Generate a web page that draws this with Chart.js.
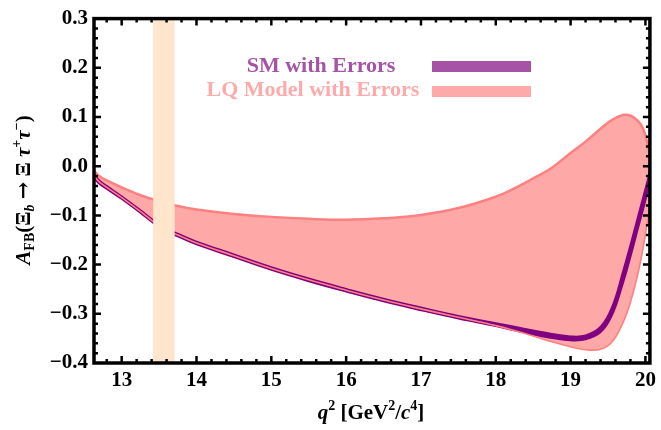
<!DOCTYPE html>
<html>
<head>
<meta charset="utf-8">
<script src="https://cdn.jsdelivr.net/npm/chart.js@4.4.1/dist/chart.umd.min.js"></script>
<style>
  html, body { margin: 0; padding: 0; background: #fff; }
</style>
</head>
<body>
<canvas id="myChart" width="661" height="430"></canvas>
<script>
// q^2 grid (GeV^2/c^4)
const q2 = [12.63, 12.7, 12.8, 13.0, 13.25, 13.5, 13.75, 14.0, 14.5, 15.0, 15.5, 16.0, 16.5, 17.0, 17.5,
            18.0, 18.25, 18.5, 18.75, 19.0, 19.2, 19.4, 19.55, 19.7, 19.8, 19.9, 19.97, 20.03, 20.06];

// LQ model band edges
const lqUpper = [-0.009, -0.020, -0.029, -0.043, -0.059, -0.071, -0.081, -0.088, -0.097, -0.103, -0.107, -0.109, -0.106, -0.099, -0.085,
                 -0.062, -0.045, -0.025, -0.003, 0.027, 0.050, 0.076, 0.094, 0.104, 0.103, 0.092, 0.076, 0.045, 0.020];
const lqLower = [-0.020, -0.032, -0.043, -0.064, -0.092, -0.121, -0.140, -0.156, -0.182, -0.208, -0.231, -0.252, -0.272, -0.290, -0.307,
                 -0.324, -0.334, -0.345, -0.357, -0.367, -0.373, -0.372, -0.358, -0.318, -0.276, -0.218, -0.165, -0.110, -0.080];

// SM band edges
const smUpper = [-0.0155, -0.028, -0.0395, -0.0608, -0.0888, -0.1178, -0.1368, -0.1528, -0.1788, -0.2048, -0.2278, -0.2488, -0.2688, -0.2868, -0.3038,
                 -0.3185, -0.326, -0.3335, -0.3405, -0.3455, -0.3435, -0.326, -0.287, -0.213, -0.1585, -0.1015, -0.0615, -0.027, -0.007];
const smLower = [-0.0245, -0.036, -0.0465, -0.0672, -0.0952, -0.1242, -0.1432, -0.1592, -0.1852, -0.2112, -0.2342, -0.2552, -0.2752, -0.2932, -0.3102,
                 -0.3255, -0.334, -0.3425, -0.3495, -0.3545, -0.3525, -0.338, -0.305, -0.239, -0.1855, -0.1285, -0.0885, -0.053, -0.033];

// excluded resonance window
const bandQ2 = [13.42, 13.71];

const xTicks = [13, 14, 15, 16, 17, 18, 19, 20];
const yTicks = [-0.4, -0.3, -0.2, -0.1, 0.0, 0.1, 0.2, 0.3];
const legendLabels = ["SM with Errors", "LQ Model with Errors"];

const SERIF = "'Liberation Serif', 'Times New Roman', serif";
const pts = arr => q2.map((x, i) => ({ x: x, y: arr[i] }));

function drawRich(ctx, segs, x, y) {
  let w = 0;
  segs.forEach(s => { ctx.font = s.font; w += ctx.measureText(s.t).width; });
  let cx = x - w / 2;
  ctx.textAlign = "left";
  ctx.textBaseline = "alphabetic";
  segs.forEach(s => {
    ctx.font = s.font;
    ctx.fillText(s.t, cx, y + (s.dy || 0));
    cx += ctx.measureText(s.t).width;
  });
}

const decorations = {
  id: "decorations",
  afterDraw(chart) {
    const ctx = chart.ctx;
    const { left, right, top, bottom } = chart.chartArea;
    const xs = chart.scales.x, ys = chart.scales.y;
    ctx.save();
    ctx.strokeStyle = "#000";
    ctx.lineWidth = 2.5;
    ctx.beginPath();
    for (let k = 63; k <= 100; k++) {
      const px = xs.getPixelForValue(k / 5);
      if (px < left + 2 || px > right - 2) continue;
      const len = k % 5 === 0 ? 7 : 4;
      ctx.moveTo(px, bottom); ctx.lineTo(px, bottom - len);
      ctx.moveTo(px, top); ctx.lineTo(px, top + len);
    }
    for (let k = -20; k <= 15; k++) {
      const py = ys.getPixelForValue(k / 50);
      if (py < top + 2 || py > bottom - 2) continue;
      const len = k % 5 === 0 ? 7 : 4;
      ctx.moveTo(left, py); ctx.lineTo(left + len, py);
      ctx.moveTo(right, py); ctx.lineTo(right - len, py);
    }
    ctx.stroke();
    ctx.lineWidth = 3.5;
    ctx.strokeRect(left, top, right - left, bottom - top);

    // legend
    ctx.font = "bold 22px " + SERIF;
    ctx.textAlign = "center";
    ctx.textBaseline = "alphabetic";
    ctx.fillStyle = "rgb(166,83,166)";
    ctx.fillText(legendLabels[0], 321, 72);
    ctx.fillRect(432, 61, 99, 11);
    ctx.fillStyle = "rgb(255,170,170)";
    ctx.fillText(legendLabels[1], 313, 96);
    ctx.fillRect(432, 86, 99, 11);

    // axis titles
    ctx.fillStyle = "#000";
    const big = "bold 21px " + SERIF, bigI = "italic bold 21px " + SERIF;
    const sm = "bold 14px " + SERIF, smI = "italic bold 14px " + SERIF;
    const arrow = "bold 21px 'DejaVu Serif', serif";
    drawRich(ctx, [
      { t: "q", font: bigI }, { t: "2", font: sm, dy: -9 }, { t: " [GeV", font: big },
      { t: "2", font: sm, dy: -9 }, { t: "/", font: big }, { t: "c", font: bigI },
      { t: "4", font: sm, dy: -9 }, { t: "]", font: big }
    ], 371, 419);

    ctx.translate(30, 190);
    ctx.rotate(-Math.PI / 2);
    drawRich(ctx, [
      { t: "A", font: bigI }, { t: "FB", font: sm, dy: 4 }, { t: "(Ξ", font: big },
      { t: "b", font: smI, dy: 4 }, { t: " ", font: big }, { t: "→", font: arrow }, { t: " Ξ ", font: big },
      { t: "τ", font: bigI }, { t: "+", font: sm, dy: -9 }, { t: "τ", font: bigI },
      { t: "−", font: sm, dy: -9 }, { t: ")", font: big }
    ], 0, 0);
    ctx.restore();
  }
};

const tickFont = { family: SERIF, size: 21, weight: "bold" };

new Chart(document.getElementById("myChart").getContext("2d"), {
  type: "line",
  data: {
    datasets: [
      {
        label: "band",
        data: bandQ2.map(x => ({ x: x, y: 0.3 })),
        borderColor: "rgba(0,0,0,0)",
        borderWidth: 0,
        backgroundColor: "rgb(255,229,204)",
        fill: { value: -0.4 },
        tension: 0
      },
      {
        label: "LQ lower",
        data: pts(lqLower),
        borderColor: "rgb(255,128,128)",
        borderWidth: 1.6,
        fill: false
      },
      {
        label: "SM upper",
        data: pts(smUpper),
        borderColor: "rgb(128,0,128)",
        borderWidth: 1.5,
        backgroundColor: "rgb(128,0,128)",
        fill: "+1"
      },
      {
        label: "SM lower",
        data: pts(smLower),
        borderColor: "rgb(128,0,128)",
        borderWidth: 1.5,
        fill: false
      },
      {
        label: "LQ upper",
        data: pts(lqUpper),
        borderColor: "rgb(255,128,128)",
        borderWidth: 2.5,
        backgroundColor: "rgb(255,168,168)",
        fill: 1
      }
    ]
  },
  options: {
    responsive: false,
    animation: false,
    layout: { padding: { top: 16, right: 10, left: 0, bottom: 0 } },
    elements: { point: { radius: 0 }, line: { tension: 0.4 } },
    plugins: { legend: { display: false }, tooltip: { enabled: false } },
    scales: {
      x: {
        type: "linear",
        min: 12.63,
        max: 20.06,
        grid: { display: false, drawTicks: false },
        border: { display: false },
        afterBuildTicks: s => { s.ticks = xTicks.map(v => ({ value: v })); },
        afterFit: s => { s.height = 67; },
        ticks: { color: "#000", font: tickFont, padding: 5, maxRotation: 0, autoSkip: false,
                 callback: v => String(v) }
      },
      y: {
        type: "linear",
        min: -0.4,
        max: 0.3,
        grid: { display: false, drawTicks: false },
        border: { display: false },
        afterBuildTicks: s => { s.ticks = yTicks.map(v => ({ value: v })); },
        afterFit: s => { s.width = 94; },
        ticks: { color: "#000", font: tickFont, padding: 6, autoSkip: false,
                 callback: v => { const r = Math.round(v * 10) / 10; return (r < 0 ? "−" : "") + Math.abs(r).toFixed(1); } }
      }
    }
  },
  plugins: [decorations]
});
</script>
</body>
</html>
